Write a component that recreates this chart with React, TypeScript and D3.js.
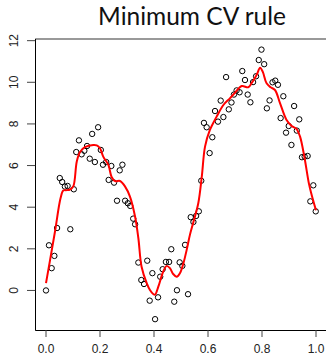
import React from "react";
import * as d3 from "d3";

const W = 326;
const H = 359;

const title = "Minimum CV rule";

const xTicks = [0, 0.2, 0.4, 0.6, 0.8, 1.0];
const yTicks = [0, 2, 4, 6, 8, 10, 12];

const pointX = [
  0.0, 0.011, 0.021, 0.031, 0.041, 0.051, 0.06, 0.07, 0.08, 0.09,
  0.103, 0.112, 0.122, 0.132, 0.142, 0.152, 0.162, 0.171, 0.181, 0.193,
  0.203, 0.211, 0.223, 0.232, 0.242, 0.252, 0.263, 0.273, 0.283, 0.293,
  0.303, 0.312, 0.323, 0.33, 0.342, 0.353, 0.363, 0.375, 0.384, 0.394,
  0.404, 0.415, 0.423, 0.432, 0.444, 0.456, 0.464, 0.475, 0.485, 0.495,
  0.505, 0.515, 0.526, 0.536, 0.546, 0.556, 0.566, 0.575, 0.585, 0.595,
  0.606, 0.616, 0.626, 0.637, 0.647, 0.657, 0.667, 0.677, 0.687, 0.696,
  0.706, 0.717, 0.727, 0.737, 0.747, 0.757, 0.767, 0.778, 0.788, 0.798,
  0.808, 0.818, 0.828, 0.839, 0.849, 0.859, 0.869, 0.879, 0.889, 0.899,
  0.909, 0.919, 0.929, 0.938, 0.948, 0.958, 0.969, 0.979, 0.99, 0.999,
];
const pointY = [
  0.0, 2.17, 1.07, 1.66, 3.0, 5.4, 5.21, 4.99, 5.02, 2.94,
  4.86, 6.65, 7.21, 6.54, 6.71, 6.94, 6.33, 7.52, 6.17, 7.84,
  6.75, 6.04, 6.17, 5.31, 5.98, 5.18, 4.31, 5.77, 6.04, 4.31,
  4.19, 4.06, 3.45, 3.18, 1.34, 0.5, 0.31, 1.43, -0.49, 0.83,
  -1.38, -0.33, 0.66, 1.02, 1.37, 1.37, 1.98, -0.54, 0.01, 1.35,
  1.18, 2.19, -0.18, 3.52, 3.29, 3.58, 3.8, 5.27, 8.05, 7.84,
  6.6, 7.36, 8.62, 8.11, 9.12, 8.33, 10.25, 8.7, 9.03, 9.41,
  9.61, 9.52, 10.54, 10.11, 9.41, 9.04, 10.01, 10.29, 11.07, 11.57,
  10.87, 8.75, 9.13, 10.0, 10.08, 9.88, 8.28, 9.33, 7.58, 7.9,
  6.99, 8.86, 7.68, 8.22, 6.4, 6.43, 6.46, 4.28, 5.05, 3.8,
];

const fitX = [
  0.0, 0.015, 0.033, 0.054, 0.064, 0.077, 0.089, 0.101, 0.114, 0.126,
  0.144, 0.175, 0.188, 0.2, 0.212, 0.231, 0.243, 0.256, 0.274, 0.293,
  0.311, 0.33, 0.342, 0.354, 0.373, 0.385, 0.397, 0.404, 0.416, 0.434,
  0.447, 0.459, 0.471, 0.484, 0.496, 0.509, 0.521, 0.533, 0.546, 0.564,
  0.577, 0.589, 0.607, 0.632, 0.657, 0.681, 0.7, 0.725, 0.749, 0.762,
  0.78, 0.793, 0.803, 0.817, 0.832, 0.848, 0.867, 0.891, 0.91, 0.929,
  0.941, 0.957, 0.974, 0.984, 1.0,
];
const fitY = [
  0.35, 1.46, 2.81, 4.44, 4.8, 4.82, 4.85, 5.0, 6.2, 6.65,
  6.88, 6.99, 6.97, 6.83, 6.43, 6.03, 5.45, 5.25, 5.26, 4.99,
  4.51, 3.54, 2.52, 1.14, 0.35, 0.02, -0.17, -0.2, 0.18, 0.9,
  1.18, 1.07, 0.79, 0.66, 0.83, 1.31, 1.95, 2.67, 3.29, 4.19,
  5.47, 6.91, 7.71, 8.35, 8.91, 9.23, 9.5, 9.82, 9.76, 9.97,
  10.35, 10.7, 10.5, 9.95, 9.76, 9.63, 8.99, 8.19, 7.9, 7.74,
  7.39, 6.41, 5.12, 4.59, 3.85,
];

export default function App() {
  const x = d3.scaleLinear().domain([-0.04, 1.04]).range([35.2, 326.8]);
  const y = d3.scaleLinear().domain([-1.9, 12.08]).range([330, 39]);

  const fitData = fitX.map((v, i) => [v, fitY[i]] as [number, number]);
  const line = d3
    .line<[number, number]>()
    .x((d) => x(d[0]))
    .y((d) => y(d[1]))
    .curve(d3.curveCatmullRom.alpha(0.5));

  const left = x(-0.04);
  const right = x(1.04);
  const top = y(12.08);
  const bottom = y(-1.9);

  return (
    <svg
      width={W}
      height={H}
      style={{ position: "absolute", left: 0, top: 0, background: "#fff" }}
    >
      <rect x={0} y={0} width={W} height={H} fill="#fff" />
      <text
        x={192}
        y={25}
        textAnchor="middle"
        fontFamily="Lato, 'Open Sans', sans-serif"
        fontSize={24.5}
        fill="#111"
      >
        {title}
      </text>
      {/* box */}
      <line x1={left} x2={right} y1={top} y2={top} stroke="#777" strokeWidth={1.4} />
      <line x1={left + 0.3} x2={left + 0.3} y1={top} y2={bottom} stroke="#000" strokeWidth={1} />
      <line x1={left} x2={right} y1={bottom + 0.5} y2={bottom + 0.5} stroke="#000" strokeWidth={1} />
      {/* y axis */}
      {yTicks.map((t) => (
        <g key={"y" + t}>
          <line x1={27} x2={left} y1={y(t)} y2={y(t)} stroke="#444" strokeWidth={1} />
          <text
            transform={`translate(17.5, ${y(t)}) rotate(-90)`}
            textAnchor="middle"
            fontFamily="'Liberation Sans', Arial, sans-serif"
            fontSize={12}
            fill="#222"
          >
            {t}
          </text>
        </g>
      ))}
      {/* x axis */}
      {xTicks.map((t) => (
        <g key={"x" + t}>
          <line x1={x(t)} x2={x(t)} y1={bottom} y2={bottom + 7} stroke="#444" strokeWidth={1} />
          <text
            x={x(t)}
            y={353}
            textAnchor="middle"
            fontFamily="'Liberation Sans', Arial, sans-serif"
            fontSize={12}
            fill="#222"
          >
            {t.toFixed(1)}
          </text>
        </g>
      ))}
      {/* points */}
      {pointX.map((px, i) => (
        <circle
          key={"p" + i}
          cx={x(px)}
          cy={y(pointY[i])}
          r={2.7}
          fill="none"
          stroke="#000"
          strokeWidth={1}
        />
      ))}
      {/* fit */}
      <path d={line(fitData) || ""} fill="none" stroke="#ff0000" strokeWidth={2} />
    </svg>
  );
}
